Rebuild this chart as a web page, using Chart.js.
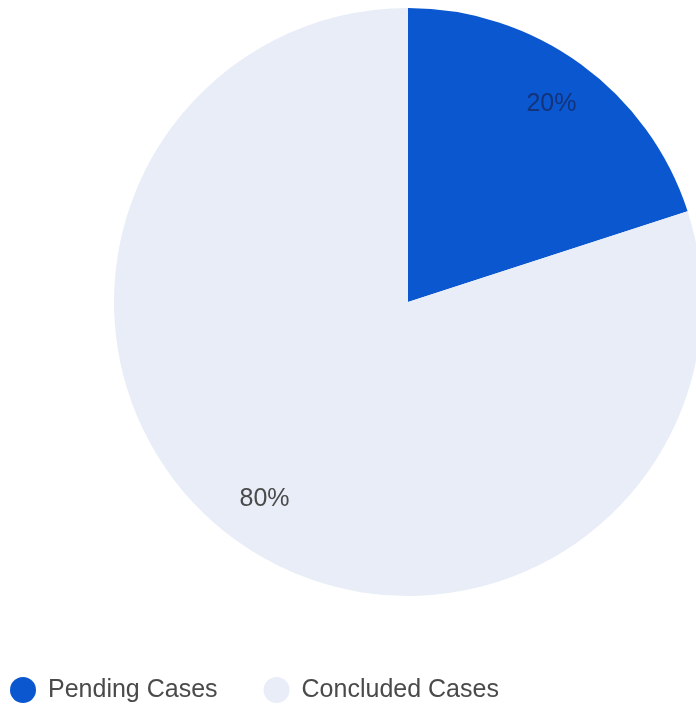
<!DOCTYPE html>
<html lang="en">
<head>
    <meta charset="UTF-8">
    <title>Pending vs Concluded Cases</title>
    <script src="https://cdn.jsdelivr.net/npm/chart.js"></script>
    <style>
        html, body { margin: 0; padding: 0; background: #fff; overflow: hidden; }
        #wrap { position: relative; width: 720px; height: 709px; }
    </style>
</head>
<body>
    <div id="wrap">
        <canvas id="pieCanvas" width="720" height="709"></canvas>
    </div>

    <script>
        var caseLabels = ['Pending Cases', 'Concluded Cases'];
        var caseValues = [20, 80];
        var sliceColors = ['#0b57d0', '#e8edf8'];

        // percentage text inside each slice
        var sliceLabels = {
            id: 'sliceLabels',
            afterDatasetsDraw: function(chart) {
                var ctx = chart.ctx;
                var meta = chart.getDatasetMeta(0);
                var data = chart.data.datasets[0].data;
                var total = data.reduce(function(a, b) { return a + b; }, 0);
                ctx.save();
                ctx.font = '25px "Liberation Sans", Arial, sans-serif';
                ctx.textAlign = 'center';
                ctx.textBaseline = 'middle';
                meta.data.forEach(function(arc, i) {
                    var p = arc.getProps(['x', 'y', 'startAngle', 'endAngle', 'outerRadius'], true);
                    var mid = (p.startAngle + p.endAngle) / 2;
                    var r = p.outerRadius * 0.83;
                    ctx.fillStyle = i === 0 ? '#13337a' : '#4a4a4a';
                    ctx.fillText(Math.round(data[i] / total * 100) + '%', p.x + Math.cos(mid) * r, p.y + Math.sin(mid) * r);
                });
                ctx.restore();
            }
        };

        // legend row at bottom left
        var bottomLegend = {
            id: 'bottomLegend',
            afterDraw: function(chart) {
                var ctx = chart.ctx;
                var colors = chart.data.datasets[0].backgroundColor;
                var x = 10, y = 690;
                ctx.save();
                ctx.font = '25px "Liberation Sans", Arial, sans-serif';
                ctx.textBaseline = 'middle';
                chart.data.labels.forEach(function(label, i) {
                    ctx.fillStyle = colors[i];
                    ctx.beginPath();
                    ctx.arc(x + 13, y, 13, 0, Math.PI * 2);
                    ctx.fill();
                    ctx.fillStyle = '#4a4a4a';
                    ctx.fillText(label, x + 38, y);
                    x += 38 + ctx.measureText(label).width + 46;
                });
                ctx.restore();
            }
        };

        var ctx = document.getElementById('pieCanvas').getContext('2d');
        new Chart(ctx, {
            type: 'pie',
            data: {
                labels: caseLabels,
                datasets: [{
                    data: caseValues,
                    backgroundColor: sliceColors,
                    borderWidth: 0
                }]
            },
            options: {
                responsive: false,
                animation: false,
                devicePixelRatio: 1,
                layout: { padding: { top: 8, left: 114, right: 18, bottom: 113 } },
                plugins: {
                    legend: { display: false },
                    tooltip: { enabled: false }
                }
            },
            plugins: [sliceLabels, bottomLegend]
        });
    </script>
</body>
</html>
